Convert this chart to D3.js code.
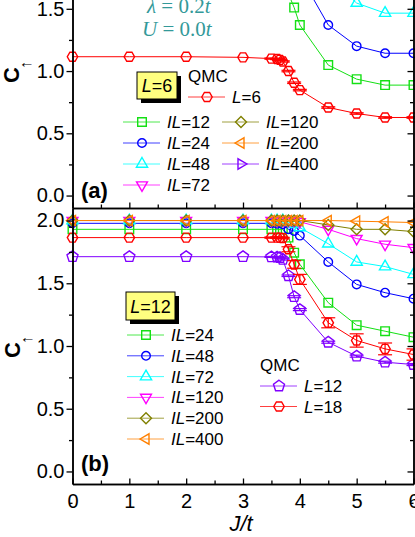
<!DOCTYPE html>
<html lang="en">
<head>
<meta charset="UTF-8" />
<title>C vs J/t</title>
<script src="https://cdn.jsdelivr.net/npm/d3@7"></script>
<style>
  body { margin: 0; background: #fff; }
  text { font-family: "Liberation Sans", Arial, sans-serif; }
</style>
</head>
<body>
<svg id="chart" width="415" height="537"></svg>
<script>
// J/t grids
const jIL = [0, 1, 2, 3, 3.5, 3.6, 3.7, 3.8, 3.9, 4, 4.5, 5, 5.5, 6];
const jQMC = [0, 1, 2, 3, 3.5, 3.6, 3.65, 3.7, 3.8, 3.9, 4, 4.5, 5, 5.5, 6];

// panel (a), L=6
const aIL12 = [1.93, 1.93, 1.93, 1.93, 1.9, 1.86, 1.78, 1.62, 1.51, 1.37, 1.048, 0.935, 0.887, 0.887];
const aIL24 = [1.98, 1.98, 1.98, 1.98, 1.98, 1.97, 1.96, 1.93, 1.87, 1.77, 1.37, 1.2, 1.143, 1.143];
const aIL48 = [2.0, 2.0, 2.0, 2.0, 2.0, 2.0, 1.99, 1.99, 1.98, 1.96, 1.75, 1.546, 1.465, 1.465];
const aIL72 = [2.0, 2.0, 2.0, 2.0, 2.0, 2.0, 2.0, 2.0, 1.99, 1.98, 1.88, 1.76, 1.7, 1.69];
const aIL120 = [2.0, 2.0, 2.0, 2.0, 2.0, 2.0, 2.0, 2.0, 2.0, 1.99, 1.95, 1.9, 1.87, 1.86];
const aIL200 = [2.0, 2.0, 2.0, 2.0, 2.0, 2.0, 2.0, 2.0, 2.0, 2.0, 1.98, 1.96, 1.95, 1.94];
const aIL400 = [2.0, 2.0, 2.0, 2.0, 2.0, 2.0, 2.0, 2.0, 2.0, 2.0, 2.0, 1.99, 1.99, 1.985];
const aQMC6 = [1.115, 1.115, 1.115, 1.11, 1.1, 1.097, 1.09, 1.077, 1.0, 0.906, 0.847, 0.707, 0.659, 0.627, 0.627];
const aQMC6err = [0, 0, 0, 0, 0.005, 0.005, 0.005, 0.005, 0.006, 0.006, 0.006, 0.006, 0.006, 0.006, 0.006];

// panel (b), L=12
const bIL24 = [1.93, 1.93, 1.93, 1.93, 1.93, 1.93, 1.93, 1.864, 1.744, 1.651, 1.345, 1.166, 1.118, 1.07];
const bIL48 = [1.978, 1.978, 1.978, 1.978, 1.978, 1.975, 1.97, 1.93, 1.917, 1.88, 1.67, 1.491, 1.425, 1.377];
const bIL72 = [2.0, 2.0, 2.0, 2.0, 2.0, 2.0, 2.0, 1.99, 1.97, 1.944, 1.815, 1.67, 1.633, 1.571];
const bIL120 = [2.0, 2.0, 2.0, 2.0, 2.0, 2.0, 2.0, 2.0, 2.0, 1.99, 1.93, 1.856, 1.811, 1.784];
const bIL200 = [2.0, 2.0, 2.0, 2.0, 2.0, 2.0, 2.0, 2.0, 2.0, 2.0, 1.965, 1.93, 1.93, 1.912];
const bIL400 = [2.0, 2.0, 2.0, 2.0, 2.0, 2.0, 2.0, 2.0, 2.0, 2.0, 2.0, 1.995, 1.99, 1.984];
const bQMC12 = [1.712, 1.712, 1.712, 1.712, 1.71, 1.709, 1.705, 1.69, 1.56, 1.393, 1.29, 1.03, 0.919, 0.871, 0.852];
const bQMC12err = [0, 0, 0, 0, 0.004, 0.004, 0.004, 0.005, 0.006, 0.008, 0.008, 0.008, 0.008, 0.008, 0.008];
const bQMC18 = [1.864, 1.864, 1.864, 1.864, 1.864, 1.864, 1.864, 1.86, 1.771, 1.65, 1.531, 1.185, 1.044, 0.977, 0.932];
const bQMC18err = [0, 0, 0, 0, 0.005, 0.005, 0.005, 0.006, 0.02, 0.03, 0.04, 0.04, 0.053, 0.047, 0.045];

const yTicks = [0, 0.5, 1, 1.5, 2];
const yMinor = [-0.25, 0.25, 0.75, 1.25, 1.75];
const xTicks = [0, 1, 2, 3, 4, 5, 6];
const xMinor = [0.5, 1.5, 2.5, 3.5, 4.5, 5.5];

const svg = d3.select("#chart");
const x = d3.scaleLinear().domain([0, 6]).range([72.5, 413.5]);
const yA = d3.scaleLinear().domain([-0.1, 2.1]).range([208, -65.9]);
const yB = d3.scaleLinear().domain([-0.1, 2.1]).range([484, 208]);

// marker shapes
function poly(n, r, rot) {
  const pts = d3.range(n).map(i => {
    const a = rot + i * 2 * Math.PI / n;
    return [(r * Math.cos(a)).toFixed(2), (r * Math.sin(a)).toFixed(2)];
  });
  return "M" + pts.join("L") + "Z";
}
const shapes = {
  square: "M-4.3,-4.3H4.3V4.3H-4.3Z",
  circle: d3.symbol(d3.symbolCircle, 58)(),
  up: poly(3, 6.5, -Math.PI / 2),
  down: poly(3, 6.3, Math.PI / 2),
  left: poly(3, 6, Math.PI),
  right: poly(3, 6, 0),
  diamond: poly(4, 5.5, -Math.PI / 2),
  hex: poly(6, 5.2, 0),
  pent: poly(5, 5.8, -Math.PI / 2)
};

const green = "#14e014", blue = "#0000ff", cyan = "#00ffff", magenta = "#ff00ff",
      olive = "#808000", orange = "#ff8000", purple = "#8000ff", red = "#ff0000";

const seriesA = [
  { il: "12", vals: aIL12, color: green, shape: "square" },
  { il: "24", vals: aIL24, color: blue, shape: "circle" },
  { il: "48", vals: aIL48, color: cyan, shape: "up" },
  { il: "72", vals: aIL72, color: magenta, shape: "down" },
  { il: "120", vals: aIL120, color: olive, shape: "diamond" },
  { il: "200", vals: aIL200, color: orange, shape: "left" },
  { il: "400", vals: aIL400, color: purple, shape: "right" }
];
const seriesB = [
  { il: "24", vals: bIL24, color: green, shape: "square" },
  { il: "48", vals: bIL48, color: blue, shape: "circle" },
  { il: "72", vals: bIL72, color: cyan, shape: "up" },
  { il: "120", vals: bIL120, color: magenta, shape: "down" },
  { il: "200", vals: bIL200, color: olive, shape: "diamond" },
  { il: "400", vals: bIL400, color: orange, shape: "left" }
];
const qmcA = [{ L: "6", vals: aQMC6, err: aQMC6err, color: red, shape: "hex" }];
const qmcB = [
  { L: "12", vals: bQMC12, err: bQMC12err, color: purple, shape: "pent" },
  { L: "18", vals: bQMC18, err: bQMC18err, color: red, shape: "hex" }
];

function drawSeries(y, s, xs) {
  const pts = xs.map((j, i) => ({ j, v: s.vals[i], e: s.err ? s.err[i] : 0 }));
  const g = svg.append("g");
  g.append("path")
    .datum(pts)
    .attr("fill", "none")
    .attr("stroke", s.color)
    .attr("stroke-width", 1)
    .attr("d", d3.line().x(d => x(d.j)).y(d => y(d.v)));
  if (s.err) {
    const eb = g.selectAll(".eb").data(pts.filter(d => d.e > 0)).enter().append("g")
      .attr("stroke", s.color).attr("stroke-width", 1.2);
    eb.append("line").attr("x1", d => x(d.j)).attr("x2", d => x(d.j))
      .attr("y1", d => y(d.v - d.e)).attr("y2", d => y(d.v + d.e));
    eb.append("line").attr("x1", d => x(d.j) - 7).attr("x2", d => x(d.j) + 7)
      .attr("y1", d => y(d.v - d.e)).attr("y2", d => y(d.v - d.e));
    eb.append("line").attr("x1", d => x(d.j) - 7).attr("x2", d => x(d.j) + 7)
      .attr("y1", d => y(d.v + d.e)).attr("y2", d => y(d.v + d.e));
  }
  g.selectAll(".m").data(pts).enter().append("path")
    .attr("transform", d => `translate(${x(d.j)},${y(d.v)})`)
    .attr("d", shapes[s.shape])
    .attr("fill", "none")
    .attr("stroke", s.color)
    .attr("stroke-width", 1.4);
}

seriesA.forEach(s => drawSeries(yA, s, jIL));
qmcA.forEach(s => drawSeries(yA, s, jQMC));
seriesB.forEach(s => drawSeries(yB, s, jIL));
qmcB.forEach(s => drawSeries(yB, s, jQMC));

// axes
function styleAxis(g) {
  g.selectAll("path.domain").attr("stroke", "#000").attr("stroke-width", 1.5);
  g.selectAll(".tick line").attr("stroke", "#000").attr("stroke-width", 1.3);
  g.selectAll(".tick text").attr("fill", "#000")
    .style("font-size", "20px").style("font-family", "'Liberation Sans', Arial, sans-serif");
}
[yA, yB].forEach((y, k) => {
  svg.append("g").attr("transform", "translate(72.5,0)")
    .call(d3.axisLeft(y).tickValues(yTicks).tickSize(6).tickSizeOuter(0).tickPadding(2)
      .tickFormat(d3.format(".1f")))
    .call(styleAxis);
  svg.append("g").attr("transform", "translate(72.5,0)")
    .call(d3.axisLeft(y).tickValues(yMinor).tickSize(3.5).tickSizeOuter(0).tickFormat(""))
    .call(styleAxis);
  svg.append("g").attr("transform", "translate(413.5,0)")
    .call(d3.axisRight(y).tickValues(yTicks).tickSize(-6).tickSizeOuter(0).tickFormat(""))
    .call(styleAxis);
  svg.append("g").attr("transform", "translate(413.5,0)")
    .call(d3.axisRight(y).tickValues(yMinor).tickSize(-3.5).tickSizeOuter(0).tickFormat(""))
    .call(styleAxis);
});
[208, 484].forEach((yy, k) => {
  svg.append("g").attr("transform", `translate(0,${yy})`)
    .call(d3.axisBottom(x).tickValues(xTicks).tickSize(-5.5).tickSizeOuter(0).tickPadding(10)
      .tickFormat(k === 1 ? d3.format("d") : ""))
    .call(styleAxis);
  svg.append("g").attr("transform", `translate(0,${yy})`)
    .call(d3.axisBottom(x).tickValues(xMinor).tickSize(-3.5).tickSizeOuter(0).tickFormat(""))
    .call(styleAxis);
});

// axis titles
function yTitle(cx, cy) {
  const t = svg.append("text").attr("transform", `translate(${cx},${cy}) rotate(-90)`)
    .style("font-size", "22px").style("font-weight", "bold");
  t.append("tspan").text("C");
  t.append("tspan").attr("dy", 12).attr("dx", -2).style("font-size", "16px")
    .style("font-weight", "normal").text("\u2191");
}
yTitle(19, 83);
yTitle(20, 358);

svg.append("text").attr("x", 241).attr("y", 531).attr("text-anchor", "middle")
  .style("font-size", "22px").style("font-style", "italic").text("J/t");

svg.append("text").attr("x", 81).attr("y", 198).style("font-size", "22px")
  .style("font-weight", "bold").text("(a)");
svg.append("text").attr("x", 81).attr("y", 471).style("font-size", "22px")
  .style("font-weight", "bold").text("(b)");

// parameters
const teal = "#339999";
function mathText(xx, yy, sym, num) {
  const t = svg.append("text").attr("x", xx).attr("y", yy).attr("fill", teal)
    .style("font-family", "'Liberation Serif', 'DejaVu Serif', serif").style("font-size", "21px");
  t.append("tspan").style("font-style", "italic").text(sym);
  t.append("tspan").text(" = " + num);
  t.append("tspan").style("font-style", "italic").text("t");
}
mathText(147, 13, "\u03bb", "0.2");
mathText(142, 36, "U", "0.0");

// legends
function yellowBox(bx, by, w, h, L) {
  svg.append("rect").attr("x", bx + 4).attr("y", by + 4).attr("width", w).attr("height", h).attr("fill", "#000");
  svg.append("rect").attr("x", bx).attr("y", by).attr("width", w).attr("height", h)
    .attr("fill", "#ffff80").attr("stroke", "#000").attr("stroke-width", 1);
  const t = svg.append("text").attr("x", bx + w / 2).attr("y", by + h / 2 + 6.5)
    .attr("text-anchor", "middle").style("font-size", "18px");
  t.append("tspan").style("font-style", "italic").text("L");
  t.append("tspan").text("=" + L);
}
function legendRow(lx, ly, s, italicPart, rest) {
  svg.append("line").attr("x1", lx).attr("x2", lx + 37).attr("y1", ly).attr("y2", ly)
    .attr("stroke", s.color).attr("stroke-width", 1).attr("stroke-opacity", 0.75);
  svg.append("path").attr("transform", `translate(${lx + 19},${ly})`).attr("d", shapes[s.shape])
    .attr("fill", "none").attr("stroke", s.color).attr("stroke-width", 1.4);
  const t = svg.append("text").attr("x", lx + 44).attr("y", ly + 6).style("font-size", "17px");
  t.append("tspan").style("font-style", "italic").text(italicPart);
  t.append("tspan").text(rest);
}

yellowBox(137, 72, 40, 27, "6");
svg.append("text").attr("x", 188).attr("y", 82).style("font-size", "17px").text("QMC");
legendRow(188, 97, qmcA[0], "L", "=" + qmcA[0].L);
seriesA.forEach((s, i) => {
  const col = i < 4 ? 0 : 1;
  const row = i < 4 ? i : i - 4;
  legendRow(col === 0 ? 123 : 222, 122 + row * 21, s, "IL", "=" + s.il);
});

yellowBox(126, 292, 49, 28, "12");
seriesB.forEach((s, i) => legendRow(127, 335 + i * 20.8, s, "IL", "=" + s.il));
svg.append("text").attr("x", 260).attr("y", 371).style("font-size", "17px").text("QMC");
qmcB.forEach((s, i) => legendRow(260, 386 + i * 20.5, s, "L", "=" + s.L));
</script>
</body>
</html>
